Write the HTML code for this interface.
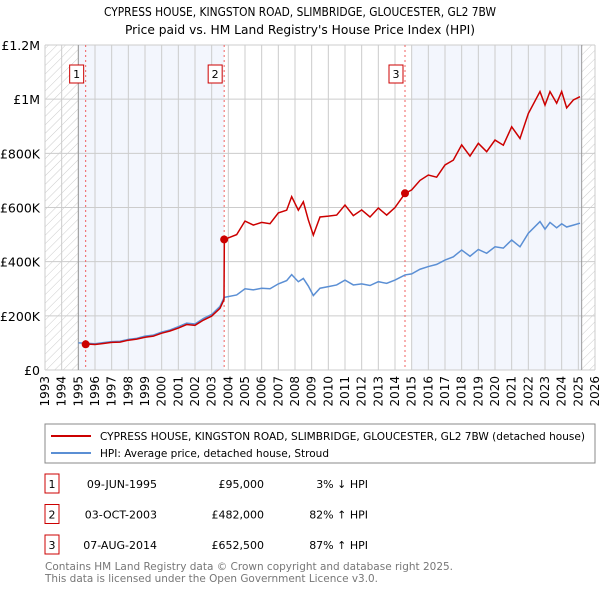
<!DOCTYPE html>
<html><head><meta charset="utf-8"><style>
body{margin:0;background:#fff;font-family:"DejaVu Sans","Liberation Sans",sans-serif;}
svg text{font-family:"DejaVu Sans","Liberation Sans",sans-serif;}
</style></head><body>
<svg id="chart" width="600" height="590" viewBox="0 0 600 590" xmlns="http://www.w3.org/2000/svg">
<defs><pattern id="hatch" width="6" height="6" patternUnits="userSpaceOnUse" patternTransform="rotate(45)"><line x1="0" y1="0" x2="0" y2="6" stroke="#ccc" stroke-width="1"/></pattern></defs>
<text x="104" y="16" font-size="12" textLength="392" lengthAdjust="spacingAndGlyphs">CYPRESS HOUSE, KINGSTON ROAD, SLIMBRIDGE, GLOUCESTER, GL2 7BW</text>
<text x="125" y="34" font-size="12" textLength="350" lengthAdjust="spacingAndGlyphs">Price paid vs. HM Land Registry's House Price Index (HPI)</text>
<g id="bg"></g><g id="grid"></g><g id="series"></g><g id="marks"></g><g id="axes"></g>
<g>
<rect x="45" y="424" width="550" height="39" fill="#fff" stroke="#888"/>
<line x1="51" y1="436" x2="91" y2="436" stroke="#cc0000" stroke-width="2"/>
<text x="100" y="440" font-size="10.5" textLength="485" lengthAdjust="spacingAndGlyphs">CYPRESS HOUSE, KINGSTON ROAD, SLIMBRIDGE, GLOUCESTER, GL2 7BW (detached house)</text>
<line x1="51" y1="453" x2="91" y2="453" stroke="#5b8fd4" stroke-width="2"/>
<text x="100" y="457" font-size="10.5" textLength="229" lengthAdjust="spacingAndGlyphs">HPI: Average price, detached house, Stroud</text>
</g>
<g id="table"></g>
<text x="45" y="570" font-size="11" fill="#777" textLength="408" lengthAdjust="spacingAndGlyphs">Contains HM Land Registry data © Crown copyright and database right 2025.</text>
<text x="45" y="582" font-size="11" fill="#777" textLength="333" lengthAdjust="spacingAndGlyphs">This data is licensed under the Open Government Licence v3.0.</text>
</svg>
<script>
const hpiDates=[1995,1995.5,1996,1996.5,1997,1997.5,1998,1998.5,1999,1999.5,2000,2000.5,2001,2001.5,2002,2002.5,2003,2003.5,2003.75,2004.5,2005,2005.5,2006,2006.5,2007,2007.5,2007.8,2008.2,2008.5,2008.8,2009.1,2009.5,2010,2010.5,2011,2011.5,2012,2012.5,2013,2013.5,2014,2014.6,2015,2015.5,2016,2016.5,2017,2017.5,2018,2018.5,2019,2019.5,2020,2020.5,2021,2021.5,2022,2022.7,2023,2023.3,2023.7,2024,2024.3,2024.7,2025.1];
const hpiValues=[100,99,97,101,105,106,113,117,125,129,140,148,160,173,170,190,205,235,268,277,300,296,302,300,318,330,352,326,338,310,275,302,308,314,332,314,318,312,326,320,332,351,355,372,382,390,406,418,443,420,445,431,455,450,480,455,505,548,520,545,525,540,528,535,542];
const redDates=[1995.45,1995.5,1996,1996.5,1997,1997.5,1998,1998.5,1999,1999.5,2000,2000.5,2001,2001.5,2002,2002.5,2003,2003.5,2003.74,2003.76,2004.5,2005,2005.5,2006,2006.5,2007,2007.5,2007.8,2008.2,2008.5,2008.8,2009.1,2009.5,2010,2010.5,2011,2011.5,2012,2012.5,2013,2013.5,2014,2014.6,2015,2015.5,2016,2016.5,2017,2017.5,2018,2018.5,2019,2019.5,2020,2020.5,2021,2021.5,2022,2022.7,2023,2023.3,2023.7,2024,2024.3,2024.7,2025.1];
const redValues=[95,96,94,98,102,103,110,114,121,125,136,144,155,168,165,184,199,228,260,482,500,550,535,545,540,580,590,640,590,621,554,498,565,568,572,609,570,591,565,598,572,600,652,665,700,720,712,757,775,831,790,837,806,849,830,898,855,947,1028,978,1028,985,1028,968,997,1009];
const sales=[{n:"1",d:1995.44,v:95,date:"09-JUN-1995",price:"£95,000",rel:"3% ↓ HPI"},{n:"2",d:2003.75,v:482,date:"03-OCT-2003",price:"£482,000",rel:"82% ↑ HPI"},{n:"3",d:2014.6,v:652.5,date:"07-AUG-2014",price:"£652,500",rel:"87% ↑ HPI"}];
const yTicks=[0,200,400,600,800,1000,1200];
const yTickLabels=["£0","£200K","£400K","£600K","£800K","£1M","£1.2M"];
const x0=45,x1=595,y0=370,y1=45,xMin=1993,xMax=2026,yMax=1200;
const X=d=>x0+(d-xMin)/(xMax-xMin)*(x1-x0);
const Y=v=>y0-v/yMax*(y0-y1);
const NS="http://www.w3.org/2000/svg";
function mk(tag,attrs,parent){const e=document.createElementNS(NS,tag);for(const k in attrs)e.setAttribute(k,attrs[k]);document.getElementById(parent).appendChild(e);return e;}
let e=mk('rect',{x:X(1993),y:y1,width:X(1995)-X(1993),height:y0-y1,fill:'url(#hatch)'},'bg');

e=mk('rect',{x:X(2025.2),y:y1,width:x1-X(2025.2),height:y0-y1,fill:'url(#hatch)'},'bg');

e=mk('rect',{x:X(1995),y:y1,width:X(2003.75)-X(1995),height:y0-y1,fill:'#f3f6fd'},'bg');

e=mk('rect',{x:X(2015),y:y1,width:X(2025.2)-X(2015),height:y0-y1,fill:'#f3f6fd'},'bg');

for(let yr=1993;yr<=2026;yr++){
 e=mk('line',{x1:X(yr),x2:X(yr),y1:y1,y2:y0,stroke:'#ccc','stroke-width':1},'grid');
 
 e=mk('text',{transform:`translate(${X(yr)+4},${y0+6}) rotate(-90)`,'text-anchor':'end','font-size':12},'axes');
 e.textContent=yr;
 
}
yTicks.forEach((v,i)=>{
 e=mk('line',{x1:x0,x2:x1,y1:Y(v),y2:Y(v),stroke:'#ccc','stroke-width':1},'grid');
 
 e=mk('text',{x:x0-5,y:Y(v)+5,'text-anchor':'end','font-size':12.5},'axes');
 e.textContent=yTickLabels[i];
 
});
e=mk('line',{x1:X(1995),x2:X(1995),y1:y1,y2:y0,stroke:'#999'},'grid');

e=mk('line',{x1:X(2025.2),x2:X(2025.2),y1:y1,y2:y0,stroke:'#999'},'grid');

sales.forEach(s=>{
 e=mk('line',{x1:X(s.d),x2:X(s.d),y1:y1,y2:y0,stroke:'#f06060','stroke-dasharray':'2,3'},'grid');
 
});
e=mk('polyline',{points:hpiDates.map((d,i)=>X(d)+','+Y(hpiValues[i])).join(' '),fill:'none',stroke:'#5b8fd4','stroke-width':1.5},'series');

e=mk('polyline',{points:redDates.map((d,i)=>X(d)+','+Y(redValues[i])).join(' '),fill:'none',stroke:'#cc0000','stroke-width':1.5},'series');

sales.forEach((s,i)=>{
 e=mk('circle',{cx:X(s.d),cy:Y(s.v),r:4,fill:'#cc0000'},'marks');
 
 e=mk('rect',{x:X(s.d)-16,y:65,width:14,height:18,fill:'#fff',stroke:'#cc0000'},'marks');
 
 e=mk('text',{x:X(s.d)-9,y:78,'text-anchor':'middle','font-size':11},'marks');
 e.textContent=s.n;
 
 const ty=483+i*30.5;
 e=mk('rect',{x:45,y:ty-9,width:14,height:19,fill:'#fff',stroke:'#cc0000'},'table');
 
 e=mk('text',{x:52,y:ty+5,'text-anchor':'middle','font-size':11},'table');e.textContent=s.n;
 
 e=mk('text',{x:157,y:ty+5,'text-anchor':'end','font-size':11},'table');e.textContent=s.date;
 
 e=mk('text',{x:264,y:ty+5,'text-anchor':'end','font-size':11},'table');e.textContent=s.price;
 
 e=mk('text',{x:368,y:ty+5,'text-anchor':'end','font-size':11},'table');e.textContent=s.rel;
 
});
</script>
</body></html>
